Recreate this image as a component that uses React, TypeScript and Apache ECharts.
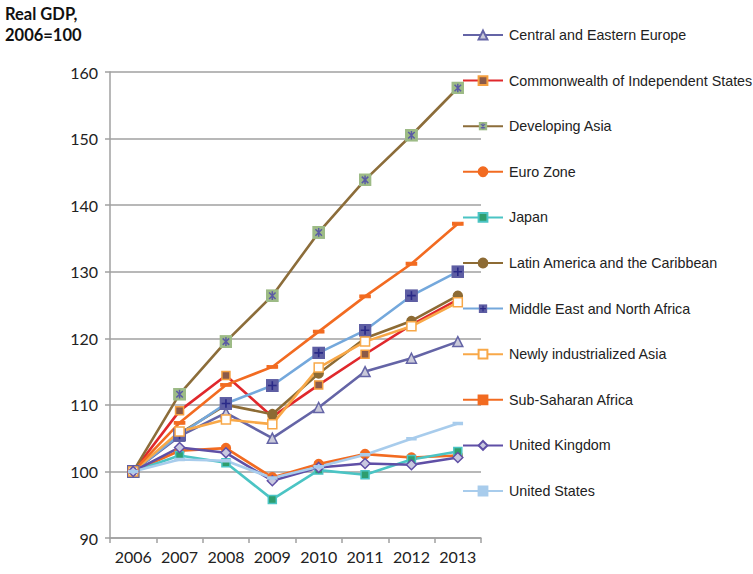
import React, { useEffect, useRef } from "react";
import * as echarts from "echarts";

const years = ["2006", "2007", "2008", "2009", "2010", "2011", "2012", "2013"];
const seriesNames = [
  "Central and Eastern Europe",
  "Commonwealth of Independent States",
  "Developing Asia",
  "Euro Zone",
  "Japan",
  "Latin America and the Caribbean",
  "Middle East and North Africa",
  "Newly industrialized Asia",
  "Sub-Saharan Africa",
  "United Kingdom",
  "United States",
];
const cee = [100, 105.3, 108.8, 105.0, 109.6, 115.0, 117.0, 119.5];
const cis = [100, 109.1, 114.4, 108.2, 113.0, 117.6, 122.0, 125.8];
const devAsia = [100, 111.6, 119.5, 126.4, 135.9, 143.8, 150.5, 157.6];
const euro = [100, 103.1, 103.5, 99.1, 101.1, 102.6, 102.1, 102.4];
const japan = [100, 102.4, 101.3, 95.8, 100.2, 99.5, 101.8, 103.0];
const latam = [100, 105.7, 110.0, 108.6, 114.7, 120.0, 122.6, 126.4];
const mena = [100, 105.5, 110.2, 112.9, 117.8, 121.2, 126.4, 130.0];
const nia = [100, 106.0, 107.8, 107.1, 115.6, 119.5, 121.8, 125.4];
const ssa = [100, 107.3, 113.0, 115.7, 121.0, 126.3, 131.2, 137.2];
const uk = [100, 103.6, 102.8, 98.6, 100.6, 101.2, 101.0, 102.1];
const us = [100, 101.8, 101.6, 99.0, 100.7, 102.5, 104.9, 107.2];
const allData = [cee, cis, devAsia, euro, japan, latam, mena, nia, ssa, uk, us];

const svgUri = (s: string) => "image://data:image/svg+xml;charset=utf-8," + encodeURIComponent(s);
const devAsiaSym = svgUri(
  "<svg xmlns='http://www.w3.org/2000/svg' width='12' height='12' viewBox='0 0 12 12'><rect width='12' height='12' fill='#9DBB86'/><path d='M3,3L9,9M9,3L3,9M6,2V10' stroke='#5B5BA6' stroke-width='1.4' fill='none'/></svg>"
);
const menaSym = svgUri(
  "<svg xmlns='http://www.w3.org/2000/svg' width='12' height='12' viewBox='0 0 12 12'><rect width='12' height='12' fill='#5E5EA3'/><path d='M6,2V10M2,6H10' stroke='#2A2A88' stroke-width='1.5' fill='none'/></svg>"
);
const dash = "path://M0,0H10V3H0Z";

const styles: any[] = [
  { color: "#6464A6", symbol: "triangle", size: 10, fill: "#C9C9D9", border: "#6464A6" },
  { color: "#E0282C", symbol: "rect", size: 8, fill: "#8B5A48", border: "#F5A040" },
  { color: "#8C6D3A", symbol: devAsiaSym, size: 13, fill: "#9DBB86", border: null },
  { color: "#F26B21", symbol: "circle", size: 9, fill: "#F26B21", border: "#F26B21" },
  { color: "#4BC4C4", symbol: "rect", size: 8, fill: "#2E9E6E", border: "#4BC4C4" },
  { color: "#8D6B34", symbol: "circle", size: 9, fill: "#8D6B34", border: "#8D6B34" },
  { color: "#74A8DC", symbol: menaSym, size: 13, fill: "#5E5EA3", border: null },
  { color: "#F8A848", symbol: "rect", size: 9, fill: "#FFFFFF", border: "#F8A848" },
  { color: "#F26B21", symbol: dash, size: [9, 3], fill: "#F26B21", border: "#F26B21" },
  { color: "#5F4FA6", symbol: "diamond", size: 10, fill: "#C8C8E0", border: "#5F4FA6" },
  { color: "#A8CCEC", symbol: dash, size: [6, 2], fill: "#A8CCEC", border: "#A8CCEC" },
];

export default function App() {
  const ref = useRef<HTMLDivElement>(null);
  useEffect(() => {
    const chart = echarts.init(ref.current!, null, { renderer: "svg" });
    const axisFont = "Lato, 'Open Sans', sans-serif";
    chart.setOption({
      animation: false,
      title: {
        text: "Real GDP,\n2006=100",
        left: 5,
        top: 3,
        padding: 0,
        textStyle: { fontFamily: axisFont, fontWeight: "bold", fontSize: 16.5, lineHeight: 21, color: "#111" },
      },
      grid: { left: 110, right: 272, top: 72, bottom: 36, containLabel: false },
      legend: {
        orient: "vertical",
        left: 462,
        top: 28,
        padding: 0,
        itemWidth: 40,
        itemHeight: 11,
        itemGap: 31.6,
        textStyle: { fontFamily: "'Liberation Sans', Arial, sans-serif", fontSize: 14.3, color: "#222", padding: [0, 0, 0, 1] },
        data: seriesNames,
      },
      xAxis: {
        type: "category",
        data: years,
        boundaryGap: true,
        axisLine: { lineStyle: { color: "#A0A0A0", width: 1.5 } },
        axisTick: { show: true, alignWithLabel: false, interval: 0, length: 5, lineStyle: { color: "#A0A0A0", width: 1.5 } },
        axisLabel: { fontFamily: axisFont, fontSize: 16, color: "#222", margin: 10, interval: 0 },
      },
      yAxis: {
        type: "value",
        min: 90,
        max: 160,
        interval: 10,
        axisLine: { show: true, lineStyle: { color: "#A0A0A0", width: 1.5 } },
        axisTick: { show: true, length: 5, lineStyle: { color: "#A0A0A0", width: 1.5 } },
        splitLine: { lineStyle: { color: "#A0A0A0", width: 1.5 } },
        axisLabel: { fontFamily: axisFont, fontSize: 16, color: "#222", margin: 12 },
      },
      series: seriesNames.map((name, i) => {
        const s = styles[i];
        return {
          name,
          type: "line",
          data: allData[i],
          symbol: s.symbol,
          symbolSize: s.size,
          showAllSymbol: true,
          color: s.color,
          lineStyle: { color: s.color, width: 2.6 },
          itemStyle: {
            color: s.fill,
            borderColor: s.border || s.fill,
            borderWidth: s.border ? 1.5 : 0,
          },
          emphasis: { disabled: true },
        };
      }),
    });
    return () => chart.dispose();
  }, []);
  return (
    <div
      ref={ref}
      style={{ position: "fixed", left: 0, top: 0, width: 753, height: 574, background: "#fff" }}
    />
  );
}
